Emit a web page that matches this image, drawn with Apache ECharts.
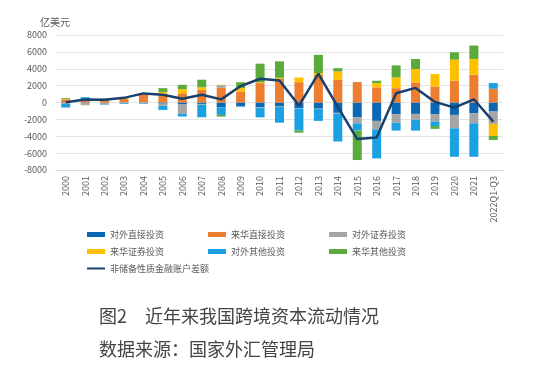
<!DOCTYPE html>
<html><head><meta charset="utf-8">
<script src="https://cdn.jsdelivr.net/npm/echarts@6/dist/echarts.min.js"></script>
<style>html,body{margin:0;padding:0;background:#fff}#c{width:540px;height:382px}</style>
</head><body><div id="c"></div>
<script>
const categories = ['2000','2001','2002','2003','2004','2005','2006','2007','2008','2009','2010','2011','2012','2013','2014','2015','2016','2017','2018','2019','2020','2021','2022Q1-Q3'];
const outDirect   = [-50,-70,-30,-10,-20,-140,-240,-170,-570,-440,-580,-480,-650,-730,-1230,-1740,-2180,-1380,-1350,-1370,-1470,-1270,-1070];
const inDirect    = [380,300,400,450,900,1050,1100,1500,1750,1300,2300,2800,2410,3250,2690,2420,1790,1700,2380,1900,2580,3290,1630];
const outPort     = [-110,-200,-200,-60,-60,-260,-1100,-100,300,-60,-80,-60,-60,-50,-100,-730,-1000,-1030,-710,-890,-1590,-1190,-1470];
const inPort      = [70,0,0,80,130,200,480,300,50,400,100,130,550,250,990,0,510,1270,1590,1470,2500,1870,-1430];
const outOther    = [-440,330,-50,-90,-80,-480,-320,-1480,-900,-50,-1100,-1850,-2600,-1400,-3290,-850,-3450,-920,-1270,-530,-3370,-3970,670];
const inOther     = [90,-50,50,0,0,450,520,900,-200,700,2200,1950,-270,2150,390,-3500,280,1430,1190,-330,870,1590,-470];
const netFinancial= [20,350,320,550,1080,910,450,910,370,1950,2820,2600,-360,3430,-510,-4340,-4160,1100,1730,70,-610,380,-2260];
const yTicks = {min:-8000, max:8000, interval:2000};

const names = ['对外直接投资','来华直接投资','对外证券投资','来华证券投资','对外其他投资','来华其他投资'];
const colors = ['#0b68b4','#ed7d31','#a5a5a5','#ffc000','#1ba1e2','#5aab3c'];
const barData = [outDirect,inDirect,outPort,inPort,outOther,inOther];
const lineName = '非储备性质金融账户差额';

const chart = echarts.init(document.getElementById('c'));
const font = '"Noto Sans CJK SC", "Noto Sans", sans-serif';
const series = barData.map((d,i)=>({
  name:names[i], type:'bar', stack:'s', data:d, barWidth:9,
  itemStyle:{color:colors[i]}
}));
series.push({name:lineName, type:'line', data:netFinancial, symbol:'none',
  lineStyle:{color:'#17406d', width:2.5}, itemStyle:{color:'#17406d'}, z:5});

const legRow = (data, top) => ({
  data, top, left:87, itemWidth:18, itemHeight:5, itemGap:44, icon:'rect', padding:0,
  textStyle:{fontSize:9, color:'#595959', fontFamily:font}
});
chart.setOption({
  animation:false,
  textStyle:{fontFamily:font},
  grid:{left:56, right:37, top:35, bottom:212},
  title:[
    {text:'亿美元', left:35, top:12, textStyle:{fontSize:10, fontWeight:'normal', color:'#595959', fontFamily:font}},
    {text:'图2　近年来我国跨境资本流动情况', left:94, top:302, textStyle:{fontSize:18, fontWeight:'normal', color:'#444444', fontFamily:font}},
    {text:'数据来源：国家外汇管理局', left:94, top:335, textStyle:{fontSize:18, fontWeight:'normal', color:'#444444', fontFamily:font}}
  ],
  legend:[
    legRow(names.slice(0,3), 230),
    legRow(names.slice(3,6), 247),
    {data:[{name:lineName, icon:'path://M0,0H18V2H0Z'}], top:264, left:87, itemWidth:18, itemHeight:3, padding:0,
     textStyle:{fontSize:9, color:'#595959', fontFamily:font}}
  ],
  xAxis:{type:'category', data:categories, boundaryGap:true,
    axisLine:{onZero:false, lineStyle:{color:'#d9d9d9'}}, axisTick:{show:false},
    axisLabel:{rotate:90, fontSize:9, color:'#595959', margin:6, interval:0}},
  yAxis:{type:'value', min:yTicks.min, max:yTicks.max, interval:yTicks.interval,
    axisLine:{show:false}, axisTick:{show:false},
    axisLabel:{fontSize:9, color:'#595959', margin:9, formatter:v=>String(v)},
    splitLine:{lineStyle:{color:'#e3e3e3'}}},
  series
});
</script></body></html>
